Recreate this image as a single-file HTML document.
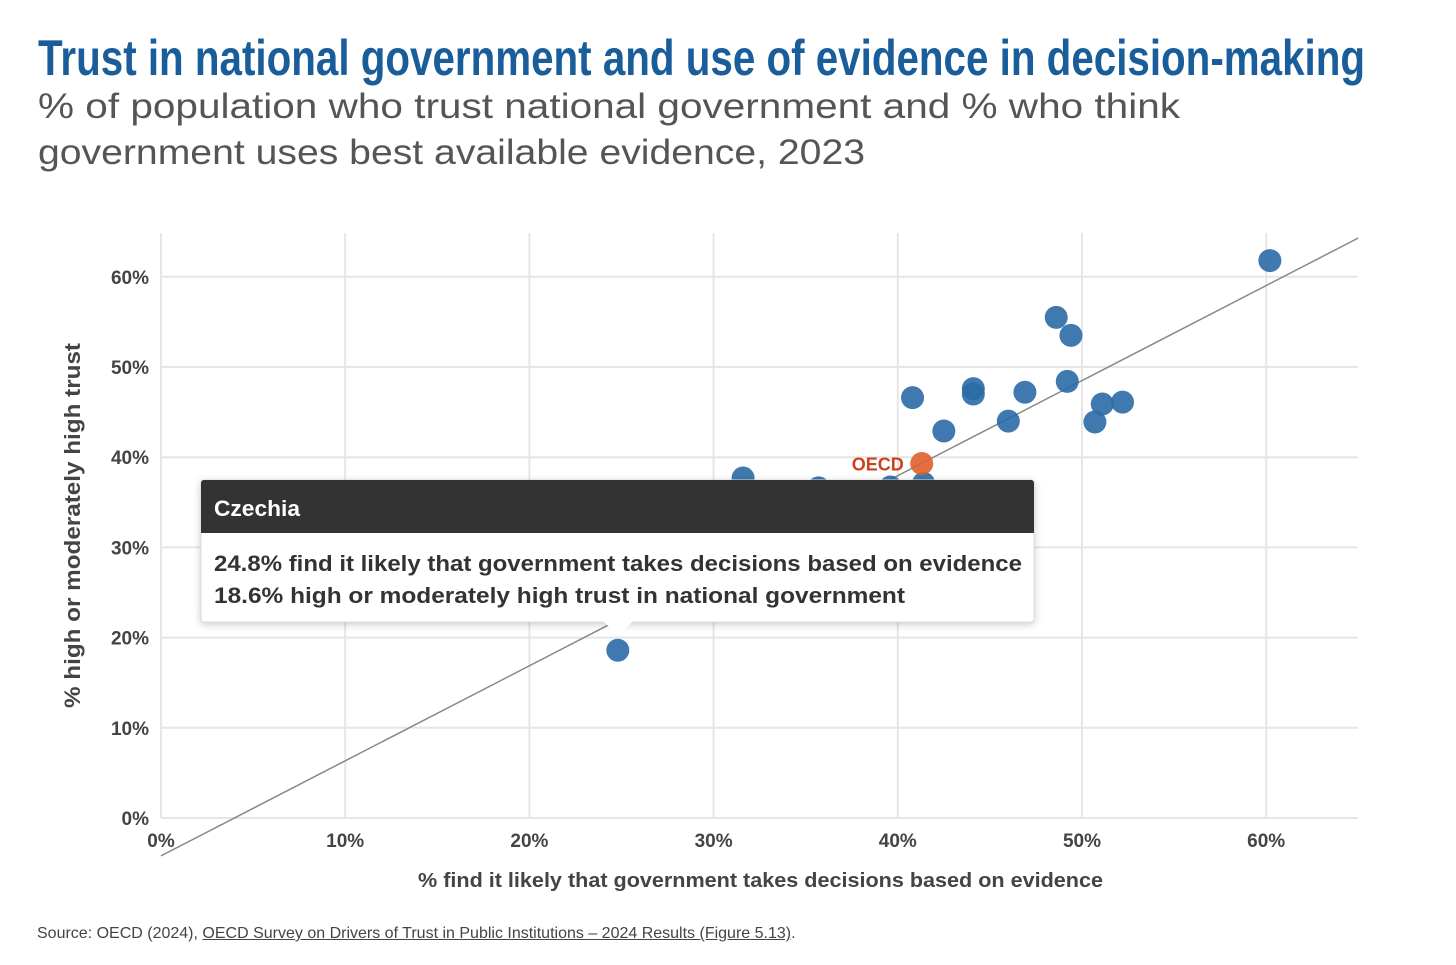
<!DOCTYPE html>
<html><head><meta charset="utf-8"><style>
body{margin:0;background:#fff;width:1456px;height:965px;overflow:hidden;font-family:"Liberation Sans",sans-serif}
#src{position:absolute;left:37px;top:925px;font-size:16px;color:#444;white-space:nowrap}
#src u{color:#444}
</style></head><body>
<svg id="chart" width="1456" height="965" style="position:absolute;left:0;top:0">
<text x="38" y="75" font-size="50" font-weight="bold" fill="#1a5d9b" textLength="1327" lengthAdjust="spacingAndGlyphs">Trust in national government and use of evidence in decision-making</text>
<g fill="#555" font-size="35">
<text x="38" y="118" textLength="1142" lengthAdjust="spacingAndGlyphs">% of population who trust national government and % who think</text>
<text x="38" y="164" textLength="827" lengthAdjust="spacingAndGlyphs">government uses best available evidence, 2023</text>
</g>
</svg>
<div id="src">Source: OECD (2024), <u>OECD Survey on Drivers of Trust in Public Institutions – 2024 Results (Figure 5.13)</u>.</div>
<script>
const xTicks=[0,10,20,30,40,50,60];
const yTicks=[0,10,20,30,40,50,60];
const xVals=[24.8,31.6,35.7,39.6,41.4,40.8,42.5,44.1,44.1,46.0,46.9,48.6,49.4,49.2,50.7,51.1,52.2,60.2];
const yVals=[18.6,37.7,36.6,36.7,37.1,46.6,42.9,47.6,47.0,44.0,47.2,55.5,53.5,48.4,43.9,45.9,46.1,61.8];
const oecd=[41.3,39.3];
const trend=[[0,-4.2],[65,64.3]];
const NS="http://www.w3.org/2000/svg";
const svg=document.getElementById('chart');
const X=v=>161+v*18.42, Y=v=>818-v*9.02;
function mk(t,a,p){const e=document.createElementNS(NS,t);for(const k in a)e.setAttribute(k,a[k]);(p||svg).appendChild(e);return e;}
xTicks.forEach(t=>{
 const l=mk('line',{x1:X(t),x2:X(t),y1:233,y2:818,stroke:'#e6e6e6','stroke-width':2});
 
 
 const tx=mk('text',{x:X(t),y:847,'text-anchor':'middle','font-size':19,'font-weight':'bold',fill:'#444'});tx.textContent=t+'%';
 
 
});
yTicks.forEach(t=>{
 const l=mk('line',{x1:161,x2:1358,y1:Y(t),y2:Y(t),stroke:'#e6e6e6','stroke-width':2});
 
 
 const tx=mk('text',{x:149,y:Y(t)+7,'text-anchor':'end','font-size':19,'font-weight':'bold',fill:'#444'});tx.textContent=t+'%';
 
 
});
const tl=mk('line',{x1:X(trend[0][0]),y1:Y(trend[0][1]),x2:X(trend[1][0]),y2:Y(trend[1][1]),stroke:'#888','stroke-width':1.5});


xVals.forEach((x,i)=>{
 const c=mk('circle',{cx:X(x),cy:Y(yVals[i]),r:11.5,fill:'#2a6aa6','fill-opacity':0.9});
 
 
});
const oc=mk('circle',{cx:X(oecd[0]),cy:Y(oecd[1]),r:11.5,fill:'#e0612b','fill-opacity':0.9});


const ol=mk('text',{x:X(oecd[0])-18,y:Y(oecd[1])+7,'text-anchor':'end','font-size':18,'font-weight':'bold',fill:'#c9431a'});ol.textContent='OECD';


const xt=mk('text',{x:418,y:887,'font-size':20,'font-weight':'bold',fill:'#444',textLength:685,lengthAdjust:'spacingAndGlyphs'});xt.textContent='% find it likely that government takes decisions based on evidence';


const yt=mk('text',{x:0,y:0,'font-size':22,'font-weight':'bold',fill:'#444',textLength:365,lengthAdjust:'spacingAndGlyphs',transform:'translate(80,708) rotate(-90)'});yt.textContent='% high or moderately high trust';


const g=mk('g',{});


mk('rect',{x:201,y:480,width:833,height:142,rx:3,fill:'#fff',stroke:'#ddd',style:'filter:drop-shadow(0 2px 4px rgba(0,0,0,.2))'},g);
mk('path',{d:'M603,621 L618,636 L633,621 Z',fill:'#fff'},g);
mk('path',{d:'M201,483 a3,3 0 0 1 3,-3 H1031 a3,3 0 0 1 3,3 V533 H201 Z',fill:'#333'},g);
const t1=mk('text',{x:214,y:516,'font-size':22,'font-weight':'bold',fill:'#fff',textLength:86,lengthAdjust:'spacingAndGlyphs'},g);t1.textContent='Czechia';
const t2=mk('text',{x:214,y:571,'font-size':22,'font-weight':'bold',fill:'#333',textLength:808,lengthAdjust:'spacingAndGlyphs'},g);t2.textContent='24.8% find it likely that government takes decisions based on evidence';
const t3=mk('text',{x:214,y:603,'font-size':22,'font-weight':'bold',fill:'#333',textLength:691,lengthAdjust:'spacingAndGlyphs'},g);t3.textContent='18.6% high or moderately high trust in national government';
</script>
</body></html>
